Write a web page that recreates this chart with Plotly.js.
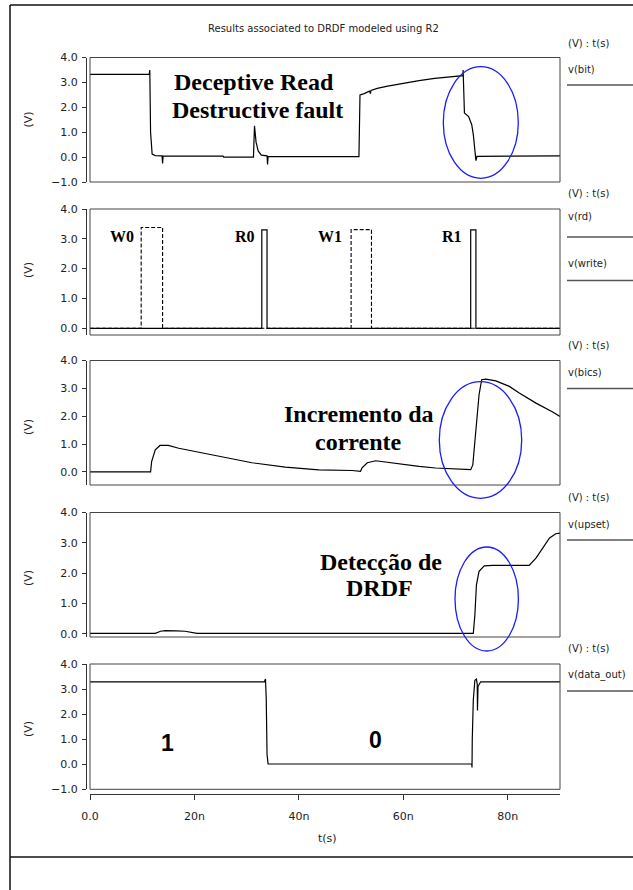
<!DOCTYPE html>
<html><head><meta charset="utf-8">
<script src="https://cdn.plot.ly/plotly-3.0.1.min.js"></script>
<style>html,body{margin:0;padding:0;background:#fff}#chart{width:633px;height:890px}</style>
</head><body><div id="chart"></div>
<script>
// ---------------- data (time in ns, voltage in V) ----------------
const tBit = [0, 11.35, 11.45, 11.6, 11.9, 12.5, 13.8, 13.9, 14.0, 25.5, 25.6, 31.3, 31.5, 31.8, 32.2, 32.8, 33.9, 34.0, 34.1, 51.5, 51.7, 52.5, 53.5, 53.7, 53.8, 55, 57, 60, 63, 66, 69, 71.4, 71.45, 71.7, 72.5, 73.1, 73.4, 73.7, 73.9, 74.1, 90];
const vBit = [3.32, 3.32, 3.5, 1.0, 0.12, 0.06, 0.05, -0.26, 0.04, 0.04, 0.0, 0.0, 1.26, 0.6, 0.25, 0.08, 0.05, -0.3, 0.02, 0.02, 2.5, 2.55, 2.65, 2.55, 2.68, 2.76, 2.85, 2.97, 3.07, 3.16, 3.22, 3.27, 3.5, 1.77, 1.63, 1.3, 0.9, 0.23, -0.14, 0.03, 0.05];

const tRd = [0, 32.9, 32.9, 33.9, 33.9, 72.9, 72.9, 73.9, 73.9, 90];
const vRd = [0, 0, 3.3, 3.3, 0, 0, 3.3, 3.3, 0, 0];
const tWrite = [0, 9.8, 9.8, 13.9, 13.9, 50.0, 50.0, 53.9, 53.9, 90];
const vWrite = [0, 0, 3.38, 3.38, 0, 0, 3.31, 3.31, 0, 0];

const tBics = [0, 11.6, 11.8, 12.5, 13.4, 15.0, 17.0, 21.4, 25.9, 31.0, 37.4, 43.8, 50.2, 51.8, 52.1, 53.1, 54.7, 56.6, 59.8, 63.0, 66.2, 69.4, 72.9, 73.3, 73.9, 74.5, 75.0, 75.8, 77.7, 80.3, 82.2, 85.4, 88.6, 90];
const vBics = [0, 0, 0.37, 0.79, 0.95, 0.95, 0.85, 0.69, 0.51, 0.33, 0.17, 0.07, 0.05, 0.02, 0.15, 0.33, 0.40, 0.35, 0.29, 0.20, 0.14, 0.11, 0.08, 0.25, 1.45, 2.77, 3.31, 3.33, 3.27, 3.07, 2.83, 2.47, 2.15, 1.99];

const tUpset = [0, 12.5, 13.5, 14.4, 16.5, 18.2, 20.5, 73.4, 73.7, 74.0, 74.5, 75.5, 77.1, 84.1, 85.4, 86.7, 88.0, 89.2, 90];
const vUpset = [0.02, 0.02, 0.09, 0.11, 0.1, 0.09, 0.02, 0.02, 0.63, 1.62, 2.06, 2.24, 2.26, 2.26, 2.5, 2.83, 3.16, 3.3, 3.32];

const tOut = [0, 33.4, 33.6, 33.75, 33.9, 34.1, 73.1, 73.15, 73.2, 73.4, 73.7, 74.0, 74.15, 74.2, 74.3, 74.8, 90];
const vOut = [3.29, 3.29, 3.4, 2.6, 0.4, 0.01, 0.01, -0.13, 1.0, 2.57, 3.35, 3.4, 3.2, 2.14, 3.1, 3.29, 3.29];

const yTicksA = [-1, 0, 1, 2, 3, 4];
const yTicksB = [0, 1, 2, 3, 4];
const xTickVals = [0, 20, 40, 60, 80];
const xTickText = ['0.0', '20n', '40n', '60n', '80n'];

const seriesNames = ['v(bit)', 'v(rd)', 'v(write)', 'v(bics)', 'v(upset)', 'v(data_out)'];

// ---------------- layout helpers ----------------
const W = 633, H = 890;
const px = x => x / W;
const py = y => 1 - y / H;
const XL = 90, XR = 560;
const SANS = 'DejaVu Sans, sans-serif';
const SERIF = 'Liberation Serif, Times New Roman, serif';

const panels = [
  {top: 57.5, bottom: 182, range: [-1, 4], ticks: yTicksA},
  {top: 209, bottom: 335, range: [-0.225, 4], ticks: yTicksB},
  {top: 360.5, bottom: 485, range: [-0.47, 4], ticks: yTicksB},
  {top: 512.5, bottom: 637, range: [-0.1, 4], ticks: yTicksB},
  {top: 664, bottom: 789.3, range: [-1, 4], ticks: yTicksA}
];

const lineStyle = {color: '#000', width: 1.2};
const traces = [
  {x: tBit, y: vBit, name: seriesNames[0], xaxis: 'x', yaxis: 'y', mode: 'lines', line: lineStyle},
  {x: tRd, y: vRd, name: seriesNames[1], xaxis: 'x2', yaxis: 'y2', mode: 'lines', line: lineStyle},
  {x: tWrite, y: vWrite, name: seriesNames[2], xaxis: 'x2', yaxis: 'y2', mode: 'lines', line: {color: '#000', width: 1.1, dash: '4px,2px'}},
  {x: tBics, y: vBics, name: seriesNames[3], xaxis: 'x3', yaxis: 'y3', mode: 'lines', line: lineStyle},
  {x: tUpset, y: vUpset, name: seriesNames[4], xaxis: 'x4', yaxis: 'y4', mode: 'lines', line: lineStyle},
  {x: tOut, y: vOut, name: seriesNames[5], xaxis: 'x5', yaxis: 'y5', mode: 'lines', line: lineStyle}
];

const layout = {
  width: W, height: H,
  margin: {l: 0, r: 0, t: 0, b: 0},
  paper_bgcolor: '#fff', plot_bgcolor: '#fff',
  showlegend: false,
  font: {family: SANS, size: 10, color: '#222'},
  shapes: [], annotations: []
};

panels.forEach((p, i) => {
  const n = i === 0 ? '' : String(i + 1);
  const xa = {
    domain: [px(XL), px(XR)], range: [0, 90], showgrid: false, zeroline: false,
    anchor: 'y' + n, visible: false
  };
  if (i === 4) {
    Object.assign(xa, {
      visible: true, anchor: 'free', position: py(794),
      showline: true, linecolor: '#333', linewidth: 1,
      ticks: 'outside', ticklen: 5, tickcolor: '#333',
      tickvals: xTickVals, ticktext: xTickText,
      ticklabelstandoff: 7,
      tickfont: {family: SANS, size: 11, color: '#222'}
    });
  }
  layout['xaxis' + n] = xa;
  layout['yaxis' + n] = {
    domain: [py(p.bottom), py(p.top)], range: p.range,
    anchor: 'free', position: px(86),
    showgrid: false, zeroline: false,
    showline: true, linecolor: '#333', linewidth: 1,
    ticks: 'outside', ticklen: 4, tickcolor: '#333',
    tickvals: p.ticks, tickformat: '.1f',
    ticklabelstandoff: 2,
    tickfont: {family: SANS, size: 11, color: '#222'}
  };
  // plot box
  layout.shapes.push({type: 'rect', xref: 'x' + n + ' domain', yref: 'y' + n + ' domain',
    x0: 0, x1: 1, y0: 0, y1: 1, line: {color: '#444', width: 1}});
});

const note = (text, x, y, font, extra) => layout.annotations.push(Object.assign({
  xref: 'paper', yref: 'paper', x: px(x), y: py(y), text: text, showarrow: false,
  xanchor: 'center', yanchor: 'middle', font: font}, extra || {}));

const smallFont = {family: SANS, size: 10, color: '#222'};
const axisFont = {family: SANS, size: 11, color: '#222'};

// y axis titles
[119.5, 270, 427, 578, 729].forEach(y => note('(V)', 28, y, axisFont, {textangle: -90}));
// x axis title
note('t(s)', 327, 838, axisFont);
// chart title
note('Results associated to DRDF modeled using R2', 323.5, 28.5, smallFont);

// right-hand legends
const legendTexts = [
  {head: 43, items: [{label: seriesNames[0], ty: 70, ly: 85}]},
  {head: 193, items: [{label: seriesNames[1], ty: 216.5, ly: 237}, {label: seriesNames[2], ty: 263, ly: 280.5}]},
  {head: 345.5, items: [{label: seriesNames[3], ty: 373, ly: 388.5}]},
  {head: 497, items: [{label: seriesNames[4], ty: 524, ly: 540}]},
  {head: 648.5, items: [{label: seriesNames[5], ty: 675, ly: 691}]}
];
legendTexts.forEach(g => {
  note('(V) : t(s)', 566, g.head, smallFont, {xanchor: 'left'});
  g.items.forEach(it => {
    note(it.label, 566, it.ty, smallFont, {xanchor: 'left'});
    layout.shapes.push({type: 'line', xref: 'paper', yref: 'paper', x0: px(567), x1: px(640),
      y0: py(it.ly), y1: py(it.ly), line: {color: '#555', width: 1.5}});
  });
});

// outer frame
const frame = {color: '#111', width: 1.5};
layout.shapes.push({type: 'line', xref: 'paper', yref: 'paper', x0: px(10), x1: px(10), y0: py(5), y1: py(895), line: frame});
layout.shapes.push({type: 'line', xref: 'paper', yref: 'paper', x0: px(10), x1: px(640), y0: py(5), y1: py(5), line: frame});
layout.shapes.push({type: 'line', xref: 'paper', yref: 'paper', x0: px(10), x1: px(640), y0: py(857), y1: py(857), line: frame});

// blue ellipses
[[480.8, 122.5, 37.5, 55.8], [480.5, 440, 41.2, 58.3], [486.7, 599, 31.7, 52]].forEach(e => {
  layout.shapes.push({type: 'circle', xref: 'paper', yref: 'paper',
    x0: px(e[0] - e[2]), x1: px(e[0] + e[2]), y0: py(e[1] + e[3]), y1: py(e[1] - e[3]),
    line: {color: '#1a1aff', width: 1.3}});
});

// big labels
const serifBold = s => ({family: SERIF, size: s, color: '#000', weight: 'bold'});
const sansBold = s => ({family: 'Liberation Sans, Arial, sans-serif', size: s, color: '#000', weight: 'bold'});
note('Deceptive Read', 254, 81.7, serifBold(24));
note('Destructive fault', 257.8, 110, serifBold(24));
note('Incremento da', 358.8, 414, serifBold(24));
note('corrente', 358.7, 441.7, serifBold(24));
note('Detecção de', 380.8, 561.7, serifBold(24));
note('DRDF', 379, 588.3, serifBold(24));
note('1', 167, 743.3, sansBold(23));
note('0', 376, 739.5, sansBold(23));

// pulse labels
[['W0', 135.7], ['R0', 256.7], ['W1', 344.3], ['R1', 464.3]].forEach(l => {
  note(l[0], l[1], 236.7, serifBold(16), {xanchor: 'right'});
});

Plotly.newPlot('chart', traces, layout, {staticPlot: true, displayModeBar: false});
</script></body></html>
